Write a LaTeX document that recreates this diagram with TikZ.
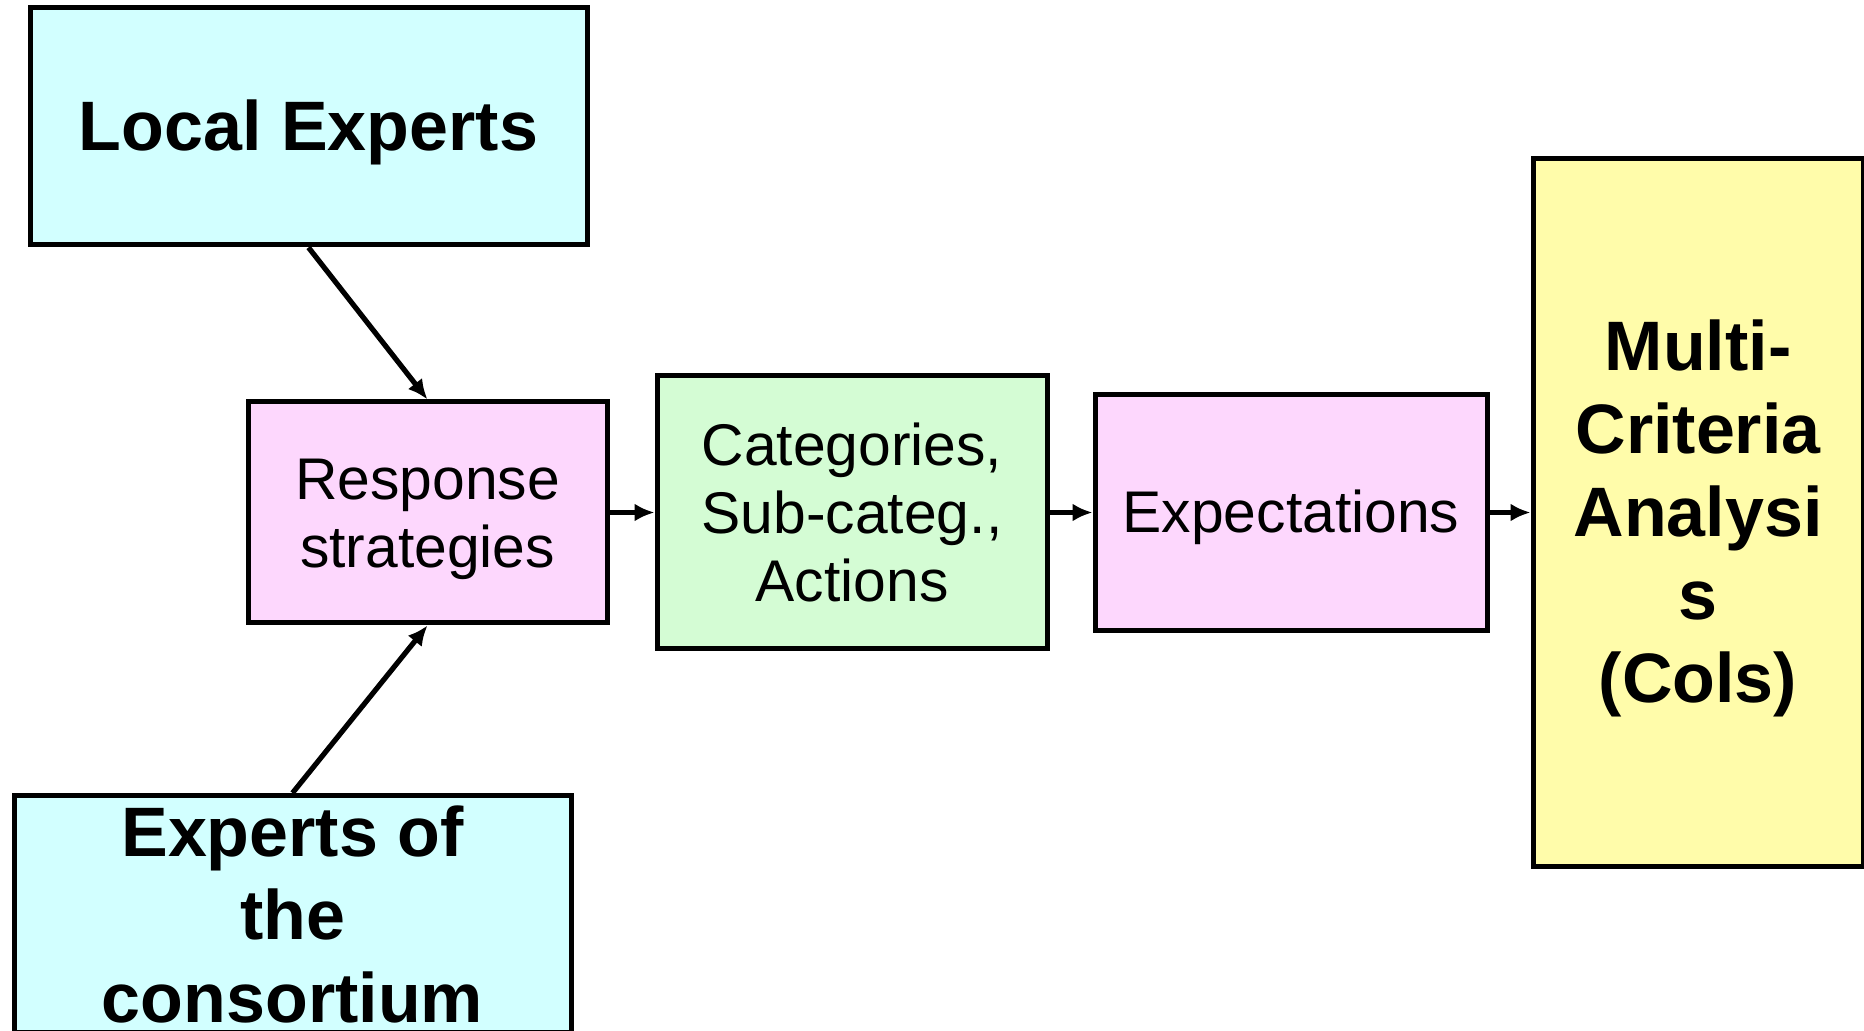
\documentclass[tikz,border=0pt]{standalone}
\usepackage{fontspec}
\setmainfont{Liberation Sans}
\usetikzlibrary{positioning,arrows.meta}

\definecolor{expertcyan}{RGB}{210,255,255}
\definecolor{stratpink}{RGB}{253,215,253}
\definecolor{catgreen}{RGB}{212,252,212}
\definecolor{mcayellow}{RGB}{255,252,170}

% line strut: font ascent and descent
\newcommand\lstrut{\rule[-0.212em]{0pt}{1.117em}}

\begin{document}
\begin{tikzpicture}[x=0.5pt, y=-0.5pt, -{Latex[length=10pt,width=9pt]}, on grid,
line width=2.6pt,
box/.style ={rectangle, draw, line width=2.5pt, inner sep=0pt, align=center},
big/.style ={box, font=\fontsize{35}{41.5}\selectfont\bfseries},
small/.style ={box, font=\fontsize{29.4}{34}\selectfont}
]
\useasboundingbox (0,0) rectangle (1864,1031);
\node[big, fill=expertcyan, minimum width=278.5pt, minimum height=118.5pt] (LE) at (308.5,126.5) {\lstrut Local Experts};
\node[big, fill=expertcyan, minimum width=278.5pt, minimum height=118.5pt] (EoC) at (292.5,914) {Experts of\\the\\consortium};
\node[small, fill=stratpink, minimum width=179.5pt, minimum height=110.5pt] (RS) at (427.5,512.5) {\lstrut Response\\strategies};
\draw (LE.south) -- (RS.north);
\draw (EoC.north) -- (RS.south);
\node[small, fill=catgreen, minimum width=195pt, minimum height=136.5pt] (Cat) [right=212.25pt of RS] {Categories,\\Sub-categ.,\\Actions}
    edge[{Latex[length=10pt,width=9pt]}-] (RS);
\node[small, fill=stratpink, minimum width=196pt, minimum height=118pt] (Exp) [right=219.5pt of Cat] {\lstrut Expectations}
    edge[{Latex[length=10pt,width=9pt]}-] (Cat);
\node[big, fill=mcayellow, minimum width=165pt, minimum height=354pt] (MCA) [right=203.5pt of Exp] {\lstrut Multi-\\Criteria\\Analysi\\s\\(Cols)}
    edge[{Latex[length=10pt,width=9pt]}-] (Exp);
\end{tikzpicture}
\end{document}
